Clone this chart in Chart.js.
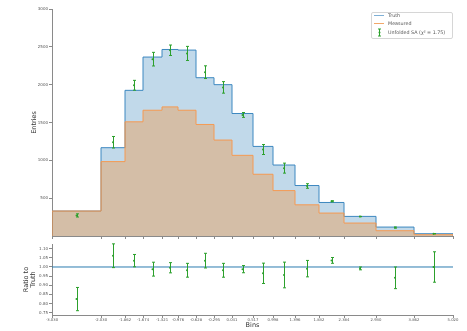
<!DOCTYPE html>
<html>
<head>
<meta charset="utf-8">
<script src="https://cdn.jsdelivr.net/npm/chart.js@4.4.0/dist/chart.umd.min.js"></script>
<style>
  html, body { margin: 0; padding: 0; background: #ffffff; }
  #wrap { position: relative; width: 467px; height: 331px; overflow: hidden; background: #ffffff; }
  #main { position: absolute; left: 0; top: 0; }
  #ratio { position: absolute; left: 0; top: 240px; }
</style>
</head>
<body>
<div id="wrap">
  <canvas id="main" width="467" height="240"></canvas>
  <canvas id="ratio" width="467" height="91"></canvas>
</div>
<script>
// Bin edges: printed edge values and their positions along the bin axis
const binEdgeLabels = ["-3.030", "-2.030", "-1.862", "-1.674", "-1.321", "-0.976", "-0.628", "-0.295",
                       "0.041", "0.517", "0.998", "1.396", "1.832", "2.384", "2.930", "3.862", "5.020"];
const edgePos = [0, 49, 73, 91, 110, 126, 144, 162, 180, 201, 221, 243, 267, 292, 324, 362, 401];

// Entries per bin
const truth    = [330, 1167, 1925, 2365, 2465, 2457, 2092, 2000, 1619, 1184, 938, 667, 443, 259, 118, 30];
const measured = [330, 983, 1509, 1662, 1706, 1662, 1474, 1268, 1066, 816, 600, 412, 303, 171, 70, 17];
const unfolded = [272, 1239, 1992, 2337, 2455, 2413, 2165, 1964, 1600, 1143, 897, 661, 459, 257, 111, 30];
const unfoldedErr = [21, 76, 65, 90, 69, 93, 84, 76, 32, 66, 66, 30, 7, 2, 7, 2.5];

const entryTicks = [500, 1000, 1500, 2000, 2500, 3000];
const ratioTicks = [0.75, 0.80, 0.85, 0.90, 0.95, 1.00, 1.05, 1.10];
const legendLabels = ["Truth", "Measured", "Unfolded SA (\u03c7\u00b2 = 1.75)"];

const FONT = "'DejaVu Sans', sans-serif";
const AXIS = "#8a8a8a";
const BLUE = "#1f77b4";
const ORANGE = "#ff7f0e";
const GREEN = "#2ca02c";

const centers = truth.map((_, i) => (edgePos[i] + edgePos[i + 1]) / 2);

// Histogram outline: rise at the first edge, one step per bin, drop at the last edge
function stepPoints(values) {
  const pts = [{ x: edgePos[0], y: 0 }];
  values.forEach((v, i) => pts.push({ x: edgePos[i], y: v }));
  pts.push({ x: edgePos[values.length], y: values[values.length - 1] });
  pts.push({ x: edgePos[values.length], y: 0 });
  return pts;
}

// Vertical error bars with small caps for datasets that carry an `errors` array
const errorBars = {
  id: 'errorBars',
  afterDatasetsDraw(chart) {
    const { ctx, scales: { x, y } } = chart;
    chart.data.datasets.forEach(ds => {
      if (!ds.errors) return;
      ctx.save();
      ctx.strokeStyle = ds.borderColor;
      ctx.lineWidth = 1;
      ds.data.forEach((p, i) => {
        const px = Math.round(x.getPixelForValue(p.x)) + 0.5;
        const yTop = y.getPixelForValue(p.y + ds.errors[i]);
        const yBot = y.getPixelForValue(p.y - ds.errors[i]);
        ctx.beginPath();
        ctx.moveTo(px, yTop); ctx.lineTo(px, yBot);
        ctx.moveTo(px - 1.5, yTop); ctx.lineTo(px + 1.5, yTop);
        ctx.moveTo(px - 1.5, yBot); ctx.lineTo(px + 1.5, yBot);
        ctx.stroke();
      });
      ctx.restore();
    });
  }
};

// Framed legend in the upper right corner of the plot area
const cornerLegend = {
  id: 'cornerLegend',
  afterDraw(chart) {
    const { ctx, chartArea } = chart;
    const bx = chartArea.right - 82, by = chartArea.top + 3, bw = 81, bh = 26;
    ctx.save();
    ctx.fillStyle = 'rgba(255,255,255,0.85)';
    ctx.strokeStyle = '#d6d6d6';
    ctx.lineWidth = 1;
    ctx.beginPath();
    ctx.roundRect(bx + 0.5, by + 0.5, bw, bh, 1.5);
    ctx.fill();
    ctx.stroke();
    const rows = [by + 3.5, by + 11.5, by + 20.5];
    ctx.lineWidth = 1;
    ctx.strokeStyle = '#7fb0d6';
    ctx.beginPath(); ctx.moveTo(bx + 3, rows[0]); ctx.lineTo(bx + 13, rows[0]); ctx.stroke();
    ctx.strokeStyle = '#f2a86a';
    ctx.beginPath(); ctx.moveTo(bx + 3, rows[1]); ctx.lineTo(bx + 13, rows[1]); ctx.stroke();
    ctx.strokeStyle = GREEN;
    const ex = bx + 8.5;
    ctx.beginPath();
    ctx.moveTo(ex, rows[2] - 3.5); ctx.lineTo(ex, rows[2] + 3.5);
    ctx.moveTo(ex - 1.5, rows[2] - 3.5); ctx.lineTo(ex + 1.5, rows[2] - 3.5);
    ctx.moveTo(ex - 1.5, rows[2] + 3.5); ctx.lineTo(ex + 1.5, rows[2] + 3.5);
    ctx.stroke();
    ctx.fillStyle = GREEN;
    ctx.beginPath(); ctx.arc(ex, rows[2], 1, 0, Math.PI * 2); ctx.fill();
    ctx.fillStyle = '#555';
    ctx.font = `4.8px ${FONT}`;
    ctx.textBaseline = 'middle';
    legendLabels.forEach((t, i) => ctx.fillText(t, bx + 17, rows[i]));
    ctx.restore();
  }
};

Chart.defaults.font.family = FONT;
Chart.defaults.animation = false;

const edgeTicks = s => { s.ticks = edgePos.map(v => ({ value: v })); };

new Chart(document.getElementById('main'), {
  type: 'line',
  data: {
    datasets: [
      {
        label: legendLabels[0], data: stepPoints(truth), stepped: 'before',
        borderColor: '#3d88c0', borderWidth: 1, backgroundColor: 'rgba(31,119,180,0.28)',
        fill: 'origin', pointRadius: 0, order: 2
      },
      {
        label: legendLabels[1], data: stepPoints(measured), stepped: 'before',
        borderColor: '#f59a52', borderWidth: 1, backgroundColor: 'rgba(255,127,14,0.30)',
        fill: 'origin', pointRadius: 0, order: 1
      },
      {
        label: legendLabels[2], type: 'scatter',
        data: unfolded.map((v, i) => ({ x: centers[i], y: v })), errors: unfoldedErr,
        borderColor: GREEN, backgroundColor: GREEN, pointRadius: 1, pointBorderWidth: 0, order: 0
      }
    ]
  },
  options: {
    responsive: false,
    devicePixelRatio: 1,
    layout: { padding: { left: 0, right: 14, top: 9, bottom: 0 } },
    plugins: { legend: { display: false }, tooltip: { enabled: false } },
    scales: {
      x: {
        type: 'linear', min: edgePos[0], max: edgePos[edgePos.length - 1],
        afterBuildTicks: edgeTicks,
        ticks: { display: false, autoSkip: false },
        grid: { drawOnChartArea: false, drawTicks: true, tickLength: 3, color: AXIS },
        border: { display: true, color: AXIS, width: 1 },
        afterFit: s => { s.height = 2; }
      },
      y: {
        min: 0, max: 3000,
        afterBuildTicks: s => { s.ticks = entryTicks.map(v => ({ value: v })); },
        ticks: { font: { size: 4 }, color: '#555', padding: 1, callback: v => String(v) },
        grid: { drawOnChartArea: false, drawTicks: true, tickLength: 3, color: AXIS },
        border: { display: true, color: AXIS, width: 1 },
        title: { display: true, text: 'Entries', font: { size: 6.5 }, color: '#333', padding: { top: 30, bottom: 0 } },
        afterFit: s => { s.width = 52; }
      }
    }
  },
  plugins: [errorBars, cornerLegend]
});

new Chart(document.getElementById('ratio'), {
  type: 'scatter',
  data: {
    datasets: [
      {
        label: 'reference', type: 'line',
        data: [{ x: edgePos[0], y: 1 }, { x: edgePos[edgePos.length - 1], y: 1 }],
        borderColor: '#2b7bb0', borderWidth: 1, pointRadius: 0, order: 1
      },
      {
        label: legendLabels[2],
        data: unfolded.map((v, i) => ({ x: centers[i], y: v / truth[i] })),
        errors: unfoldedErr.map((e, i) => e / truth[i]),
        borderColor: GREEN, backgroundColor: GREEN, pointRadius: 1, pointBorderWidth: 0, order: 0
      }
    ]
  },
  options: {
    responsive: false,
    devicePixelRatio: 1,
    layout: { padding: { left: 0, right: 14, top: 1, bottom: 0 } },
    plugins: { legend: { display: false }, tooltip: { enabled: false } },
    scales: {
      x: {
        type: 'linear', min: edgePos[0], max: edgePos[edgePos.length - 1],
        afterBuildTicks: edgeTicks,
        ticks: {
          autoSkip: false, maxRotation: 0, minRotation: 0, font: { size: 3.8 }, color: '#555', padding: 0,
          callback: (v, i) => binEdgeLabels[i]
        },
        grid: { drawOnChartArea: false, drawTicks: true, tickLength: 3, color: AXIS },
        border: { display: true, color: AXIS, width: 1 },
        title: { display: true, text: 'Bins', font: { size: 6.5 }, color: '#333', padding: { top: 0, bottom: 2 } },
        afterFit: s => { s.height = 16; }
      },
      y: {
        min: 0.737, max: 1.126,
        afterBuildTicks: s => { s.ticks = ratioTicks.map(v => ({ value: v })); },
        ticks: { font: { size: 4 }, color: '#555', padding: 1, callback: v => v.toFixed(2) },
        grid: { drawOnChartArea: false, drawTicks: true, tickLength: 3, color: AXIS },
        border: { display: true, color: AXIS, width: 1 },
        title: { display: true, text: ['Ratio to', 'Truth'], font: { size: 6.5, lineHeight: 1.05 }, color: '#333', padding: { top: 23, bottom: 0 } },
        afterFit: s => { s.width = 52; }
      }
    }
  },
  plugins: [errorBars]
});
</script>
</body>
</html>
